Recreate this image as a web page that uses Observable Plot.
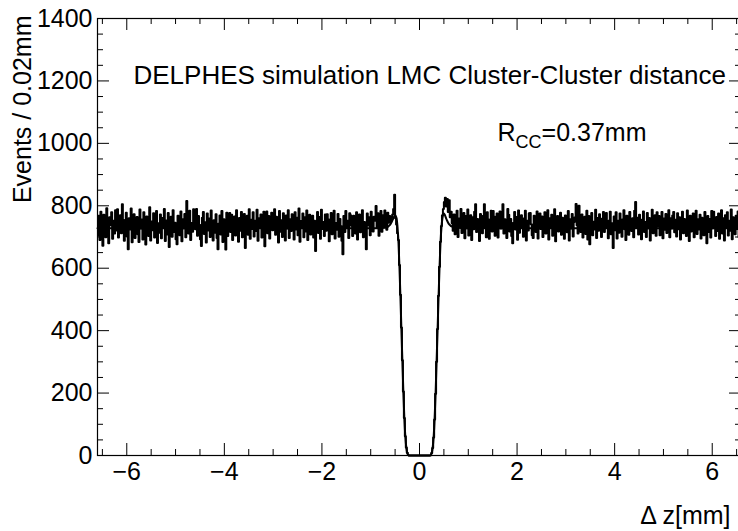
<!DOCTYPE html>
<html><head><meta charset="utf-8">
<script src="https://cdn.jsdelivr.net/npm/d3@7"></script>
<script src="https://cdn.jsdelivr.net/npm/@observablehq/plot@0.6"></script>
<style>body{margin:0;background:#fff}</style>
</head><body><div id="chart"></div>
<script>
// Histogram: bins of 0.02 mm from -6.6 to 6.6 mm (660 bins)
const binWidth = 0.02;
const xStart = -6.6;
const countsLeft = [
705,768,690,781,726,672,771,748,699,792,717,680,763,738,779,694,752,711,786,721,
789,698,745,770,712,805,755,688,731,778,702,661,760,724,791,683,741,773,697,748,
764,709,684,788,727,756,692,779,719,676,766,741,703,795,689,750,722,776,698,735,
783,681,744,714,772,696,761,729,790,687,753,708,777,668,737,765,701,786,716,746,
693,677,768,740,706,782,686,757,728,774,699,815,753,711,784,690,745,717,789,761,
725,790,704,767,739,693,671,762,780,710,747,682,775,721,759,700,785,734,689,754,
714,773,697,661,743,769,708,783,684,757,729,660,778,703,750,777,716,771,690,742,
766,705,786,731,685,761,720,780,699,748,774,665,737,768,707,789,694,755,726,779,
702,752,719,787,688,760,730,772,698,744,781,670,753,782,712,767,695,746,778,722,
756,789,707,765,733,682,783,717,754,700,776,738,689,769,727,786,697,757,719,773,
741,692,779,724,762,706,791,685,751,731,775,699,763,718,785,690,746,771,708,738,
768,698,752,655,728,780,713,764,694,787,726,748,703,772,720,773,757,686,741,777,
709,760,784,695,745,723,774,701,758,735,688,645,767,716,783,729,752,697,776,770,
736,703,768,750,711,779,692,744,772,715,759,786,699,748,722,661,775,737,763,706,
781,741,718,765,752,799,729,776,704,760,783,717,770,734,785,751,723,778,746,767,
748,762,772,790,835,760
];
const countsDip = [
740,712,690,610,515,410,305,205,120,62,26,9,2,
0,0,0,0,0,0,0,0,0,0,0,0,0,0,0,0,0,0,0,0,0,0,
1,8,24,58,115,198,300,405,512,605,685,735,770
];
const countsRight = [
790,812,826,798,822,780,818,763,781,744,720,772,709,765,784,700,759,731,790,713,
752,777,696,767,728,788,705,746,770,690,763,725,781,805,716,758,737,687,774,744,
712,768,805,730,699,779,757,694,742,784,718,783,766,704,737,775,698,751,782,727,
765,805,711,757,738,697,790,771,718,758,703,680,746,780,724,764,691,785,714,749,
770,729,701,760,784,689,752,721,776,777,741,706,697,768,735,716,782,695,759,775,
726,766,700,748,779,711,743,786,692,760,730,771,704,755,789,686,744,767,718,753,
778,707,762,734,694,769,745,715,783,689,757,727,774,702,748,763,806,738,711,800,
753,716,772,698,739,765,710,784,692,767,677,736,777,706,749,724,787,697,761,720,
773,737,700,759,780,716,768,777,729,696,753,781,709,744,665,766,722,779,695,752,
714,775,740,701,757,786,725,690,768,733,707,780,750,719,760,699,784,812,731,762,
708,771,739,693,756,782,716,748,700,777,728,761,689,750,787,712,742,770,704,779,
734,767,706,752,780,696,759,723,774,713,745,786,699,760,727,769,780,715,755,702,
776,725,763,692,747,781,712,758,736,703,785,726,687,768,718,754,775,699,741,784,
710,757,724,771,695,762,740,706,780,732,680,767,716,758,698,783,728,781,749,703,
764,719,775,694,741,786,711,760,689,770,731,779,705,752,720,788,693,763,734,709,
768,726,782,700,751,737
];
// Fit curve sample points
const fitX = [-6.6,-1.0,-0.7,-0.6,-0.55,-0.5,-0.47,-0.45,-0.43,-0.41,-0.39,-0.37,-0.35,-0.33,-0.31,-0.29,-0.27,-0.25,-0.22,
               0.22,0.25,0.27,0.29,0.31,0.33,0.35,0.37,0.39,0.41,0.43,0.45,0.47,0.5,0.55,0.6,0.7,1.0,6.6];
const fitY = [728,728,730,740,755,770,760,730,680,600,505,400,300,200,118,60,25,8,0,
              0,8,25,60,118,200,300,400,505,600,680,730,760,775,758,742,731,728,728];
// Axis ticks
const xMajorTicks = [-6,-4,-2,0,2,4,6];
const xMinorTicks = [-6.5,-5.5,-5,-4.5,-3.5,-3,-2.5,-1.5,-1,-0.5,0.5,1,1.5,2.5,3,3.5,4.5,5,5.5,6.5];
const yMajorTicks = [0,200,400,600,800,1000,1200,1400];
const yMinorTicks = [50,100,150,250,300,350,450,500,550,650,700,750,850,900,950,1050,1100,1150,1250,1300,1350];
const titleText = "DELPHES simulation LMC Cluster-Cluster distance";
const yTitle = "Events / 0.02mm";
const xTitle = "\u0394 z[mm]";

const counts = [...countsLeft, ...countsDip, ...countsRight];
const hist = counts.map((c, i) => ({x: xStart + binWidth * (i + 0.5), y: c}));
const fit = fitX.map((x, i) => ({x, y: fitY[i]}));

const W = 738, H = 531, mL = 97, mR = -3, mT = 18, mB = 76;
const innerH = H - mT - mB, innerW = W - mL - mR;

const chart = Plot.plot({
  width: W, height: H,
  marginLeft: mL, marginRight: mR, marginTop: mT, marginBottom: mB,
  style: {fontFamily: "'Liberation Sans', Arial, Helvetica, sans-serif", fontSize: "25px", color: "black", background: "white"},
  x: {domain: [-6.6, 6.6], label: null},
  y: {domain: [0, 1400], label: null},
  marks: [
    Plot.line(hist, {x: "x", y: "y", curve: "step", stroke: "black", strokeWidth: 2}),
    Plot.line(fit, {x: "x", y: "y", curve: "monotone-x", stroke: "black", strokeWidth: 2}),
    // inward ticks, bottom & top
    Plot.tickX(xMajorTicks, {x: d => d, insetTop: innerH - 12, stroke: "black", strokeWidth: 1}),
    Plot.tickX(xMinorTicks, {x: d => d, insetTop: innerH - 6, stroke: "black", strokeWidth: 1}),
    Plot.tickX(xMajorTicks, {x: d => d, insetBottom: innerH - 12, stroke: "black", strokeWidth: 1}),
    Plot.tickX(xMinorTicks, {x: d => d, insetBottom: innerH - 6, stroke: "black", strokeWidth: 1}),
    // inward ticks, left & right
    Plot.tickY(yMajorTicks, {y: d => d, insetRight: innerW - 12, stroke: "black", strokeWidth: 1}),
    Plot.tickY(yMinorTicks, {y: d => d, insetRight: innerW - 6, stroke: "black", strokeWidth: 1}),
    Plot.tickY(yMajorTicks, {y: d => d, insetLeft: innerW - 12, stroke: "black", strokeWidth: 1}),
    Plot.tickY(yMinorTicks, {y: d => d, insetLeft: innerW - 6, stroke: "black", strokeWidth: 1}),
    Plot.axisX(xMajorTicks, {anchor: "bottom", tickSize: 0, tickPadding: 7, label: null}),
    Plot.axisY(yMajorTicks, {anchor: "left", tickSize: 0, tickPadding: 5, label: null, tickFormat: d => String(d)}),
    Plot.frame({stroke: "black", strokeWidth: 1.2}),
    Plot.text([titleText], {text: d => d, frameAnchor: "top-left", dx: 36, dy: 57, textAnchor: "start", lineAnchor: "middle", fill: "black", fontSize: 26}),
    Plot.text(["RCC=0.37mm"], {text: d => d, frameAnchor: "top-left", dx: 400, dy: 114, textAnchor: "start", lineAnchor: "middle", fill: "black"}),
    Plot.text([yTitle], {text: d => d, frameAnchor: "top-left", rotate: -90, textAnchor: "end", lineAnchor: "middle", dx: -75, dy: -3, fill: "black"}),
    Plot.text([xTitle], {text: d => d, frameAnchor: "bottom-right", textAnchor: "end", lineAnchor: "middle", dx: -11, dy: 60, fill: "black"})
  ]
});

// subscript for R_CC
chart.querySelectorAll("text").forEach(t => {
  if (t.textContent === "RCC=0.37mm") {
    const ns = "http://www.w3.org/2000/svg";
    while (t.firstChild) t.removeChild(t.firstChild);
    t.appendChild(document.createTextNode("R"));
    const sub = document.createElementNS(ns, "tspan");
    sub.setAttribute("dy", "7"); sub.setAttribute("font-size", "18px");
    sub.textContent = "CC";
    t.appendChild(sub);
    const rest = document.createElementNS(ns, "tspan");
    rest.setAttribute("dy", "-7");
    rest.textContent = "=0.37mm";
    t.appendChild(rest);
  }
});
document.getElementById("chart").appendChild(chart);
</script>
</body></html>
